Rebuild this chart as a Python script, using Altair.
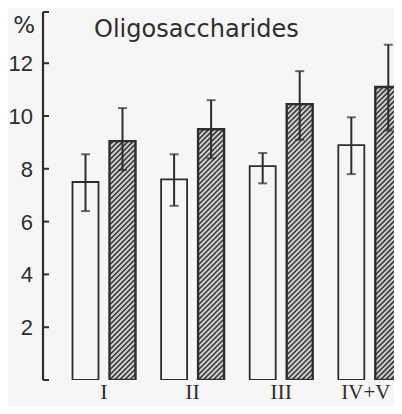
import altair as alt
import pandas as pd
import numpy as np

# ---- data ----
groups = ["I", "II", "III", "IV+V"]
white_vals = [7.5, 7.6, 8.1, 8.9]
white_lo = [6.4, 6.6, 7.45, 7.8]
white_hi = [8.55, 8.55, 8.6, 9.95]
hatched_vals = [9.05, 9.5, 10.45, 11.1]
hatched_lo = [7.95, 8.4, 9.1, 9.45]
hatched_hi = [10.3, 10.6, 11.7, 12.7]
y_ticks = [2, 4, 6, 8, 10, 12]
title_text = ["Oligosaccharides"]
unit_text = ["%"]

# ---- layout / style parameters ----
W, H = 351, 368
Y_MAX = 13.94
X_MIN = -0.6885
PX_X = 88.6                 # pixels per group step
X_MAX = X_MIN + W / PX_X
PX_Y = H / Y_MAX
BAR_W = 26 / PX_X
GAP = 11 / PX_X
HATCH_P = 5.0               # vertical hatch period in px
INK = "#2e2e2e"
PAPER = "#f6f6f6"
HATCH_BG = "#d2d2d2"

xs = alt.Scale(domain=[X_MIN, X_MAX], nice=False, zero=False)
ys = alt.Scale(domain=[0, Y_MAX], nice=False, zero=True)

rows = []
for i, g in enumerate(groups):
    rows.append(dict(group=g, series="white", pos=i,
                     x0=i - GAP / 2 - BAR_W, x1=i - GAP / 2,
                     val=white_vals[i], lo=white_lo[i], hi=white_hi[i], zero=0))
    rows.append(dict(group=g, series="hatched", pos=i,
                     x0=i + GAP / 2, x1=i + GAP / 2 + BAR_W,
                     val=hatched_vals[i], lo=hatched_lo[i], hi=hatched_hi[i], zero=0))
bars = pd.DataFrame(rows)
bars["xc"] = (bars["x0"] + bars["x1"]) / 2
white = bars[bars.series == "white"]
hatched = bars[bars.series == "hatched"]

# hatch segments derived from the hatched bars ("/" at 45 deg in pixel space)
seg = []
for _, r in hatched.iterrows():
    w_px = (r.x1 - r.x0) * PX_X
    h_px = r.val * PX_Y
    c = -w_px + 1.0
    while c < h_px:
        u0 = max(0.0, -c)
        u1 = min(w_px, h_px - c)
        if u1 > u0:
            seg.append(dict(xa=r.x0 + u0 / PX_X, xb=r.x0 + u1 / PX_X,
                            ya=(u0 + c) / PX_Y, yb=(u1 + c) / PX_Y))
        c += HATCH_P
segs = pd.DataFrame(seg)

X = lambda f: alt.X(f, scale=xs, axis=None)
Y = lambda f: alt.Y(f, scale=ys, axis=None)

base = alt.Chart(bars)

white_bars = alt.Chart(white).mark_rect(fill=PAPER, stroke=INK, strokeWidth=1.8, clip=True).encode(
    x=X("x0:Q"), x2="x1", y=Y("val:Q"), y2="zero")

hatch_bg = alt.Chart(hatched).mark_rect(fill=HATCH_BG, clip=True).encode(
    x=X("x0:Q"), x2="x1", y=Y("val:Q"), y2="zero")

hatch_lines = alt.Chart(segs).mark_rule(color="#3a3a3a", strokeWidth=1.7, clip=True).encode(
    x=X("xa:Q"), x2="xb", y=Y("ya:Q"), y2="yb")

hatch_outline = alt.Chart(hatched).mark_rect(fillOpacity=0, stroke=INK, strokeWidth=2.4, clip=True).encode(
    x=X("x0:Q"), x2="x1", y=Y("val:Q"), y2="zero")

err = base.mark_rule(color=INK, strokeWidth=2, clip=True).encode(
    x=X("xc:Q"), y=Y("lo:Q"), y2="hi")
cap_hi = base.mark_tick(color=INK, orient="horizontal", size=9, thickness=2, clip=True).encode(
    x=X("xc:Q"), y=Y("hi:Q"))
cap_lo = base.mark_tick(color=INK, orient="horizontal", size=9, thickness=2, clip=True).encode(
    x=X("xc:Q"), y=Y("lo:Q"))

# y axis: spine, inward ticks with bracket ends, labels
axis_df = pd.DataFrame({"a": [0], "b": [Y_MAX]})
spine = alt.Chart(axis_df).mark_rule(color=INK, strokeWidth=2.2).encode(
    y=Y("a:Q"), y2="b", x=alt.value(0))

tick_df = pd.DataFrame({"t": y_ticks + [0, Y_MAX]})
ticks = alt.Chart(tick_df).mark_rule(color=INK, strokeWidth=2).encode(
    y=Y("t:Q"), x=alt.value(0), x2=alt.value(6))

ylab = alt.Chart(pd.DataFrame({"t": y_ticks})).mark_text(
    font="Liberation Sans", fontSize=22, color=INK, align="right", baseline="middle", dy=1).encode(
    text="t:Q", y=Y("t:Q"), x=alt.value(-10))

title = alt.Chart(pd.DataFrame({"t": title_text})).mark_text(
    font="DejaVu Sans", fontSize=24, color=INK, align="left", baseline="alphabetic").encode(
    text="t:N", x=alt.value(51), y=alt.value(25))

unit = alt.Chart(pd.DataFrame({"t": unit_text})).mark_text(
    font="DejaVu Sans", fontSize=23, color=INK, align="right", baseline="alphabetic").encode(
    text="t:N", x=alt.value(-8), y=alt.value(21))

lab_df = pd.DataFrame({"g": groups, "pos": list(range(len(groups)))})
xlab = alt.Chart(lab_df.iloc[:-1]).mark_text(
    font="Liberation Serif", fontSize=22, color=INK, align="center", baseline="alphabetic").encode(
    text="g:N", x=X("pos:Q"), y=alt.value(H + 19))
xlab_last = alt.Chart(lab_df.iloc[-1:]).mark_text(
    font="Liberation Serif", fontSize=21, color=INK, align="center", baseline="alphabetic", dx=-4).encode(
    text="g:N", x=X("pos:Q"), y=alt.value(H + 19))

chart = alt.layer(white_bars, hatch_bg, hatch_lines, hatch_outline, err, cap_hi, cap_lo,
                  spine, ticks, ylab, title, unit, xlab, xlab_last).properties(
    width=W, height=H,
    autosize=alt.AutoSizeParams(type="none"),
    padding={"left": 35, "top": 4, "right": 0, "bottom": 26},
    background=PAPER,
).configure_view(stroke=None)

chart.save("out.html", embed_options={"renderer": "svg", "actions": False})
